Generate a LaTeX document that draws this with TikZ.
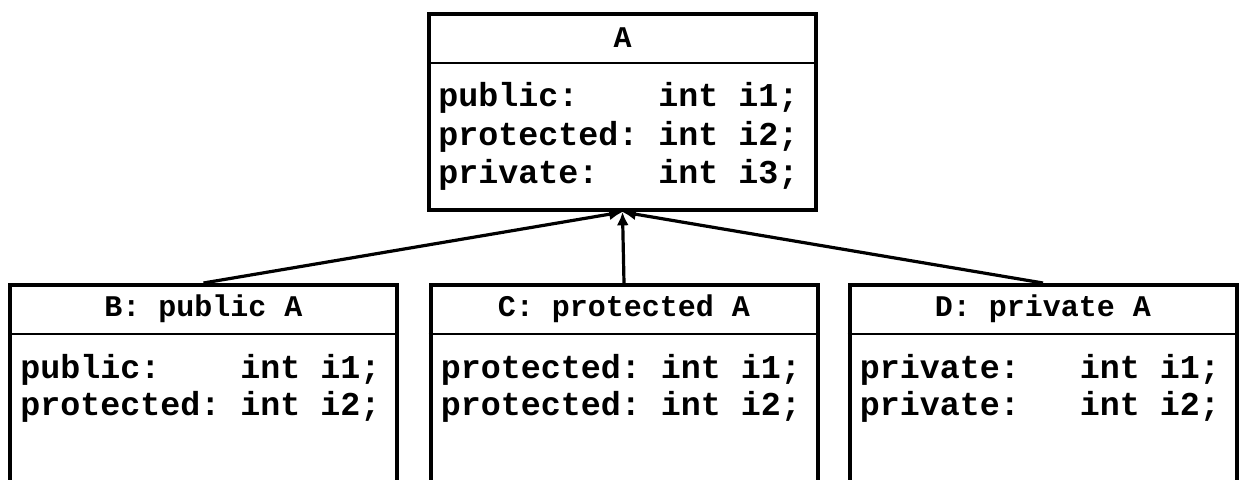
\documentclass[tikz,border=0pt]{standalone}
\usepackage{fontspec}
\setmonofont{Liberation Mono}
\usetikzlibrary{calc,arrows.meta}
\tikzset{
  classbox/.style={draw=black, line width=3pt, fill=white, inner sep=0pt, minimum width=290.25pt},
  hdr/.style={font=\ttfamily\bfseries\fontsize{22.5}{26}\selectfont, inner sep=0pt, anchor=center},
  body/.style={font=\ttfamily\bfseries\fontsize{25}{30}\selectfont, inner sep=0pt, anchor=base west},
  divider/.style={line width=2pt},
  inherit/.style={line width=2.4pt, -{Latex[length=10pt,width=9pt]}}
}
\begin{document}
\begin{tikzpicture}[x=0.75pt,y=-0.75pt]
\useasboundingbox (0,0) rectangle (1240,479);
\clip (0,0) rectangle (1240,479);
% boxes
\node[classbox, minimum height=147pt] (A) at (622.5,112) {};
\node[classbox, minimum height=165pt] (B) at (203.5,395) {};
\node[classbox, minimum height=165pt] (C) at (624,395) {};
\node[classbox, minimum height=165pt] (D) at (1043,395) {};
% dividers
\foreach \b in {A,B,C,D}{
  \draw[divider] ($(\b.north west)+(0,51)$) -- ($(\b.north east)+(0,51)$);
}
% headers
\node[hdr] (Ah) at ($(A.north)+(0,26)$) {A};
\node[hdr] (Bh) at ($(B.north)+(0,26)$) {B: public A};
\node[hdr] (Ch) at ($(C.north)+(0,26)$) {C: protected A};
\node[hdr] (Dh) at ($(D.north)+(0,26)$) {D: private A};
% bodies
\node[body] (A1) at ($(A.north west)+(11,94)$) {public:\ \ \ \ int i1;};
\node[body] (A2) at ($(A.north west)+(11,133)$) {protected: int i2;};
\node[body] (A3) at ($(A.north west)+(11,171)$) {private:\ \ \ int i3;};
\node[body] (B1) at ($(B.north west)+(12,95)$) {public:\ \ \ \ int i1;};
\node[body] (B2) at ($(B.north west)+(12,132)$) {protected: int i2;};
\node[body] (C1) at ($(C.north west)+(12,95)$) {protected: int i1;};
\node[body] (C2) at ($(C.north west)+(12,132)$) {protected: int i2;};
\node[body] (D1) at ($(D.north west)+(12,95)$) {private:\ \ \ int i1;};
\node[body] (D2) at ($(D.north west)+(12,132)$) {private:\ \ \ int i2;};
% inheritance connectors
\draw[inherit] (B.north) -- (A.south);
\draw[inherit] (D.north) -- (A.south);
\draw[inherit] (C.north) -- (A.south);
\end{tikzpicture}
\end{document}
